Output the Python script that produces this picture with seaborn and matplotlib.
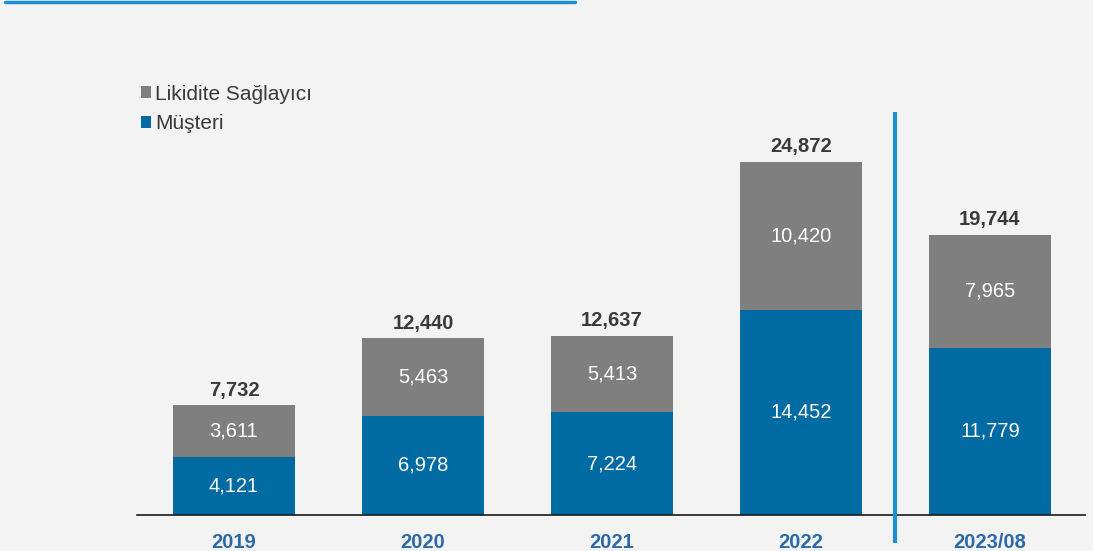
import matplotlib
matplotlib.use("Agg")
import matplotlib.pyplot as plt
from matplotlib.patches import Patch
from matplotlib.lines import Line2D
import seaborn as sns

# Yearly values (stacked: Müşteri at the bottom, Likidite Sağlayıcı on top)
categories = ["2019", "2020", "2021", "2022", "2023/08"]
musteri = [4121, 6978, 7224, 14452, 11779]
likidite = [3611, 5463, 5413, 10420, 7965]
totals = [7732, 12440, 12637, 24872, 19744]

BLUE = "#006aa2"
GRAY = "#7f7f7f"
LINE_BLUE = "#1b8fd2"
TICK_BLUE = "#2b6aa8"
TEXT_DARK = "#3a3a3a"
BG = "#f3f3f3"

sns.set_theme(style="white")
plt.rcParams["font.family"] = ["Liberation Sans", "DejaVu Sans"]

W, H = 1093, 551
fig = plt.figure(figsize=(W / 100, H / 100), dpi=100, facecolor=BG)

# axes spans the baseline from x=137 to x=1085 px, baseline at y=515 px
left, right, bottom_px = 137, 1085, 515
ax = fig.add_axes([left / W, (H - bottom_px) / H, (right - left) / W, bottom_px / H])
ax.set_facecolor("none")

# full stack height first (gray), then the blue lower segment over it
stack_tops = [m + l for m, l in zip(musteri, likidite)]
sns.barplot(x=categories, y=stack_tops, color=GRAY, saturation=1, width=0.645,
            ax=ax, edgecolor="none")
sns.barplot(x=categories, y=musteri, color=BLUE, saturation=1, width=0.645,
            ax=ax, edgecolor="none")

ax.set_xlim(-0.513, 4.503)
ax.set_ylim(0, 36293)

for i, (m, l, t) in enumerate(zip(musteri, likidite, totals)):
    ax.text(i, m / 2, f"{m:,}", ha="center", va="center", color="white",
            fontsize=14.5)
    ax.text(i, m + l / 2, f"{l:,}", ha="center", va="center", color="white",
            fontsize=14.5)
    ax.annotate(f"{t:,}", xy=(i, m + l), xytext=(0, 11), textcoords="offset points",
                ha="center", va="center", fontsize=14.5, fontweight="bold",
                color=TEXT_DARK)

# separator between full years and the partial year
ax.plot([3.5, 3.5], [28400, -1973], color=LINE_BLUE, lw=3, clip_on=False,
        solid_capstyle="butt", zorder=5)

sns.despine(ax=ax, left=True, top=True, right=True)
ax.spines["bottom"].set_color("#1a1a1a")
ax.spines["bottom"].set_linewidth(1.2)
ax.set_yticks([])
ax.set_ylabel("")
ax.tick_params(axis="x", length=0, pad=13)
for lab in ax.get_xticklabels():
    lab.set_fontweight("bold")
    lab.set_color(TICK_BLUE)
    lab.set_fontsize(14.5)

handles = [Patch(facecolor=GRAY, edgecolor="none", label="Likidite Sağlayıcı"),
           Patch(facecolor=BLUE, edgecolor="none", label="Müşteri")]
leg = fig.legend(handles=handles, loc="upper left",
                 bbox_to_anchor=(122 / W, 1 - 66 / H), frameon=False,
                 handlelength=0.5, handleheight=0.5, handletextpad=0.2,
                 labelspacing=0.5, fontsize=15)
for t in leg.get_texts():
    t.set_color(TEXT_DARK)

# accent rule along the top edge
fig.add_artist(Line2D([5 / W, 575 / W], [1 - 1.5 / H, 1 - 1.5 / H],
                      transform=fig.transFigure, color=LINE_BLUE, lw=2.5))

fig.savefig("out.png", dpi=100, facecolor=BG)
